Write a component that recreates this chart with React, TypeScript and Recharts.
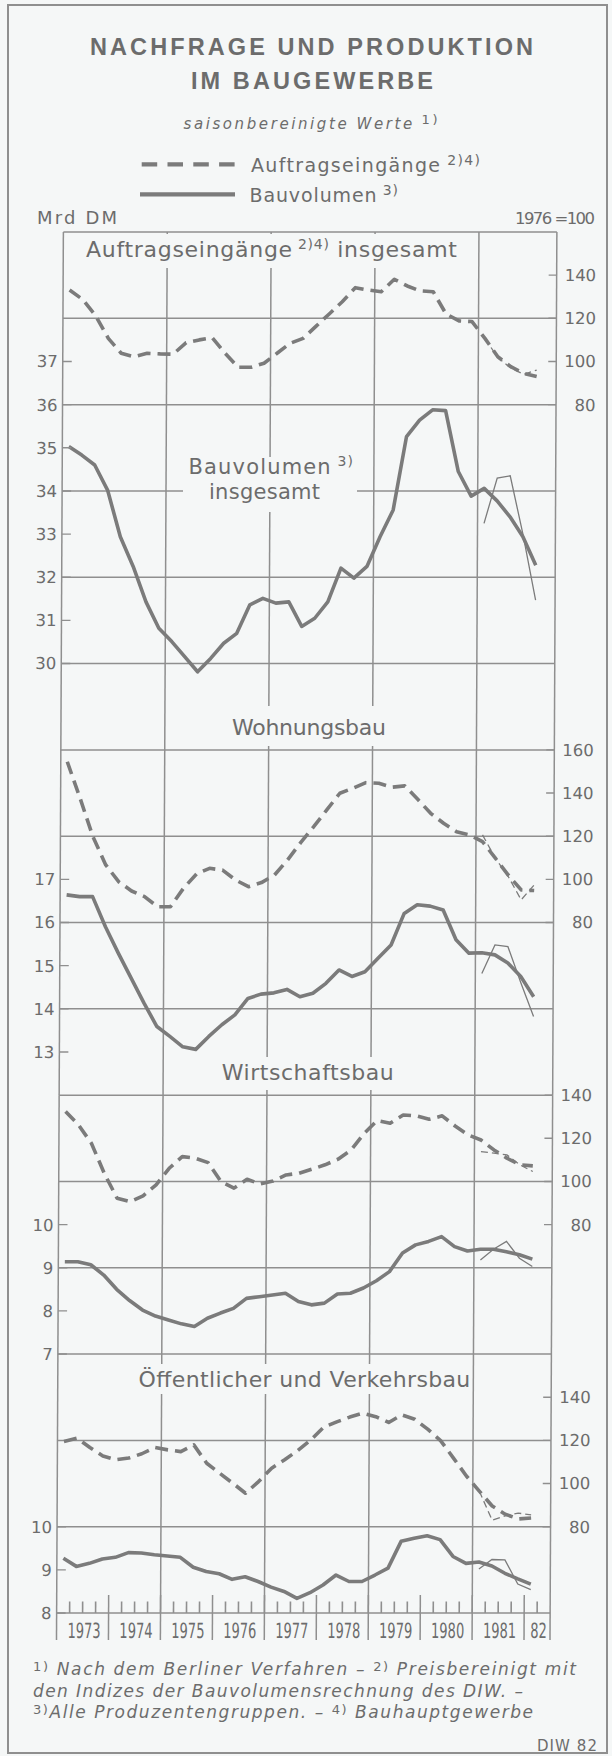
import React from 'react';
import { ComposedChart, Line, XAxis, YAxis, ReferenceLine } from 'recharts';

// ---------- categories ----------
const quarterLabels = [
  '1973 I', '1973 II', '1973 III', '1973 IV',
  '1974 I', '1974 II', '1974 III', '1974 IV',
  '1975 I', '1975 II', '1975 III', '1975 IV',
  '1976 I', '1976 II', '1976 III', '1976 IV',
  '1977 I', '1977 II', '1977 III', '1977 IV',
  '1978 I', '1978 II', '1978 III', '1978 IV',
  '1979 I', '1979 II', '1979 III', '1979 IV',
  '1980 I', '1980 II', '1980 III', '1980 IV',
  '1981 I', '1981 II', '1981 III', '1981 IV',
  '1982 I',
];
const altStart = '1981 I';

const yearLabels = ['1973', '1974', '1975', '1976', '1977', '1978', '1979', '1980', '1981', '82'];
const yearTickPos = [1973.5, 1974.5, 1975.5, 1976.5, 1977.5, 1978.5, 1979.5, 1980.5, 1981.5, 1982.25];
const yearBounds = [1974, 1975, 1976, 1977, 1978, 1979, 1980, 1981, 1982];
const gridYears = [1975, 1977, 1979, 1981];

// ---------- series: Insgesamt ----------
const gesamtBau = [35.03, 34.83, 34.6, 34.02, 32.94, 32.25, 31.43, 30.82, 30.51, 30.16, 29.81, 30.12, 30.47, 30.7, 31.36, 31.51, 31.4, 31.43, 30.86, 31.05, 31.43, 32.21, 31.98, 32.25, 32.94, 33.56, 35.26, 35.64, 35.88, 35.86, 34.45, 33.88, 34.06, 33.77, 33.4, 32.94, 32.28];
const gesamtAuf = [133.1, 128.8, 121.4, 110.7, 103.8, 102.2, 103.8, 103.5, 103.4, 108.7, 110.0, 111.0, 103.8, 97.3, 97.3, 99.2, 103.8, 108.4, 110.7, 116.4, 122.0, 127.7, 134.2, 133.1, 132.3, 138.1, 135.0, 132.7, 132.3, 122.0, 118.8, 118.5, 110.7, 102.2, 97.6, 94.5, 93.0];
const gesamtBauAlt = [33.25, 34.3, 34.35, 33.0, 31.47];
const gesamtAufAlt = [110.7, 101.8, 97.0, 94.0, 96.0];

// ---------- series: Wohnungsbau ----------
const wohnBau = [16.64, 16.6, 16.6, 15.9, 15.29, 14.71, 14.13, 13.59, 13.36, 13.12, 13.06, 13.36, 13.63, 13.86, 14.24, 14.34, 14.37, 14.45, 14.28, 14.36, 14.59, 14.9, 14.75, 14.86, 15.17, 15.48, 16.21, 16.41, 16.38, 16.29, 15.6, 15.29, 15.3, 15.25, 15.06, 14.75, 14.28];
const wohnAuf = [154.5, 137.6, 119.8, 106.7, 98.9, 94.6, 92.0, 87.3, 87.3, 95.9, 102.5, 105.1, 104.3, 99.7, 96.6, 98.5, 102.0, 109.0, 117.0, 124.4, 132.2, 139.9, 142.2, 144.8, 144.5, 142.7, 143.3, 137.1, 130.6, 126.0, 122.1, 120.6, 117.5, 109.8, 102.0, 95.1, 94.8];
const wohnBauAlt = [14.82, 15.48, 15.44, 14.61, 13.82];
const wohnAufAlt = [120.6, 109.8, 101.3, 90.5, 97.4];

// ---------- series: Wirtschaftsbau ----------
const wirtBau = [9.14, 9.14, 9.07, 8.83, 8.5, 8.24, 8.02, 7.88, 7.79, 7.7, 7.64, 7.83, 7.95, 8.06, 8.29, 8.33, 8.37, 8.41, 8.22, 8.14, 8.18, 8.39, 8.41, 8.53, 8.7, 8.91, 9.34, 9.53, 9.61, 9.72, 9.49, 9.39, 9.43, 9.43, 9.37, 9.3, 9.2];
const wirtAuf = [132.4, 126.2, 117.7, 103.8, 92.2, 90.6, 93.3, 98.4, 106.1, 111.5, 110.8, 108.7, 99.9, 96.9, 101.0, 98.8, 100.2, 103.0, 103.8, 105.7, 107.7, 110.3, 114.6, 122.3, 128.2, 127.0, 130.8, 130.4, 128.8, 130.4, 125.7, 121.6, 119.2, 114.6, 110.8, 107.7, 107.2];
const wirtBauAlt = [9.18, 9.43, 9.61, 9.22, 9.03];
const wirtAufAlt = [113.8, 113.1, 112.3, 107.7, 104.6];

// ---------- series: Oeffentlicher und Verkehrsbau ----------
const oeffBau = [9.27, 9.08, 9.15, 9.25, 9.29, 9.4, 9.39, 9.35, 9.32, 9.29, 9.06, 8.96, 8.91, 8.78, 8.84, 8.73, 8.6, 8.5, 8.34, 8.47, 8.65, 8.88, 8.73, 8.73, 8.88, 9.04, 9.66, 9.73, 9.79, 9.7, 9.31, 9.15, 9.18, 9.09, 8.92, 8.79, 8.67];
const oeffAuf = [119.5, 121.0, 116.7, 112.8, 111.0, 111.8, 113.8, 116.7, 115.6, 114.8, 117.9, 109.4, 104.8, 100.2, 95.5, 100.9, 107.1, 111.0, 115.3, 120.2, 126.1, 128.6, 130.8, 132.6, 131.0, 128.3, 131.8, 129.8, 125.2, 119.9, 111.8, 103.5, 96.5, 89.6, 85.8, 83.6, 84.0];
const oeffBauAlt = [9.02, 9.24, 9.23, 8.67, 8.54];
const oeffAufAlt = [96.5, 83.0, 85.0, 86.3, 85.5];

// ---------- layout / style ----------
const W = 612;
const H = 1756;
const PLOT_L = 60;
const PLOT_R = 553.5;
const GRID_TOP = 232;
const GRID_BOT = 1613;
const ROW_H = (GRID_BOT - GRID_TOP) / 16;
const X0 = 1973;
const X1 = 1982.5;

const BG = '#f5f7f7';
const GRID = '#8f8f8f';
const LINE = '#7b7b7b';
const TXT = '#6c6c6c';
const FONT = "'DejaVu Sans', 'Liberation Sans', sans-serif";

const toT = (q: string) => {
  const [y, r] = q.split(' ');
  const n = ({ I: 1, II: 2, III: 3, IV: 4 } as Record<string, number>)[r];
  return Number(y) + (n - 0.5) / 4;
};

const quarterBounds = quarterLabels.map((q) => toT(q) + 0.125).filter((t) => t % 1 !== 0);

function buildRows(bau: number[], auf: number[], bauAlt: number[], aufAlt: number[]) {
  const s0 = quarterLabels.indexOf(altStart);
  return quarterLabels.map((q, i) => ({
    q,
    t: toT(q),
    s: bau[i],
    d: auf[i],
    s2: i >= s0 ? bauAlt[i - s0] : null,
    d2: i >= s0 ? aufAlt[i - s0] : null,
  }));
}

const panels = [
  { r0: 0, r1: 6, lDomain: [28, 40], rDomain: [-80, 160], lTicks: [30, 31, 32, 33, 34, 35, 36, 37], rTicks: [80, 100, 120, 140], grid: [40, 38, 36, 34, 32, 30], rows: buildRows(gesamtBau, gesamtAuf, gesamtBauAlt, gesamtAufAlt) },
  { r0: 6, r1: 10, lDomain: [12, 20], rDomain: [0, 160], lTicks: [13, 14, 15, 16, 17], rTicks: [80, 100, 120, 140, 160], grid: [20, 18, 16, 14], rows: buildRows(wohnBau, wohnAuf, wohnBauAlt, wohnAufAlt) },
  { r0: 10, r1: 13, lDomain: [7, 13], rDomain: [20, 140], lTicks: [7, 8, 9, 10], rTicks: [80, 100, 120, 140], grid: [13, 11, 9, 7], rows: buildRows(wirtBau, wirtAuf, wirtBauAlt, wirtAufAlt) },
  { r0: 13, r1: 16, lDomain: [8, 14], rDomain: [40, 160], lTicks: [8, 9, 10], rTicks: [80, 100, 120, 140], grid: [12, 10], rows: buildRows(oeffBau, oeffAuf, oeffBauAlt, oeffAufAlt) },
];

const LeftTick = (props: any) => {
  const { y, payload } = props;
  return (
    <g>
      <line x1={PLOT_L} x2={PLOT_L + 9} y1={y} y2={y} stroke={GRID} strokeWidth={1.4} />
      <text x={55} y={y} dy="0.36em" textAnchor="end" fontSize={16.5} fill={TXT} fontFamily={FONT}>
        {payload.value}
      </text>
    </g>
  );
};

const RightTick = (props: any) => {
  const { y, payload } = props;
  return (
    <g>
      <line x1={PLOT_R - 8} x2={PLOT_R} y1={y} y2={y} stroke={GRID} strokeWidth={1.4} />
      <text x={593} y={y} dy="0.36em" textAnchor="end" fontSize={16.5} fill={TXT} fontFamily={FONT}>
        {payload.value}
      </text>
    </g>
  );
};

const YearTick = (props: any) => {
  const { x, payload } = props;
  const idx = yearTickPos.indexOf(payload.value);
  const lbl = yearLabels[idx] ?? '';
  return (
    <g transform={`translate(${x + 1.5},1638) scale(0.62,1)`}>
      <text x={0} y={0} textAnchor="middle" fontSize={21} fill={TXT} fontFamily={FONT}>
        {lbl}
      </text>
    </g>
  );
};

function Panel({ cfg, axis }: { cfg: any; axis: boolean }) {
  const top = GRID_TOP + cfg.r0 * ROW_H;
  const bottom = GRID_TOP + cfg.r1 * ROW_H;
  const xh = axis ? 30 : 0;
  const lMin = cfg.lDomain[0];
  const unitPx = ROW_H / 2;
  const below = (px: number) => lMin - px / unitPx;
  const above = (px: number) => lMin + px / unitPx;
  return (
    <div style={{ position: 'absolute', left: 0, top: 0 }}>
      <ComposedChart width={W} height={H} data={cfg.rows}
        margin={{ top, right: 0, left: 0, bottom: H - bottom - xh }}>
        <XAxis type="number" dataKey="t" domain={[X0, X1]} allowDataOverflow hide={!axis} height={30}
          ticks={yearTickPos} interval={0} tickLine={false}
          axisLine={{ stroke: GRID, strokeWidth: 1.6 }} tick={YearTick} />
        <YAxis yAxisId="L" type="number" domain={cfg.lDomain} ticks={cfg.lTicks} allowDataOverflow
          width={PLOT_L} interval={0} tickLine={false} axisLine={false} tick={LeftTick} />
        <YAxis yAxisId="R" orientation="right" type="number" domain={cfg.rDomain} ticks={cfg.rTicks}
          allowDataOverflow width={W - PLOT_R} interval={0} tickLine={false} axisLine={false} tick={RightTick} />
        {cfg.grid.map((v: number) => (
          <ReferenceLine key={'h' + v} yAxisId="L" y={v} stroke={GRID} strokeWidth={1.5} />
        ))}
        {[X0, ...gridYears, X1].map((x) => (
          <ReferenceLine key={'v' + x} yAxisId="L" x={x} stroke={GRID} strokeWidth={1.5} />
        ))}
        {axis && [X0, ...yearBounds, X1].map((x) => (
          <ReferenceLine key={'yb' + x} yAxisId="L" ifOverflow="visible" stroke={GRID} strokeWidth={1.5}
            segment={[{ x, y: below(27) }, { x, y: x === X0 || x === X1 ? lMin : above(18) }]} />
        ))}
        {axis && quarterBounds.map((x) => (
          <ReferenceLine key={'qb' + x} yAxisId="L" ifOverflow="visible" stroke={GRID} strokeWidth={1.6}
            segment={[{ x, y: lMin }, { x, y: above(11.5) }]} />
        ))}
        <Line yAxisId="R" dataKey="d" type="linear" stroke={LINE} strokeWidth={3.6} strokeDasharray="13 7"
          dot={false} isAnimationActive={false} strokeLinejoin="round" />
        <Line yAxisId="L" dataKey="s" type="linear" stroke={LINE} strokeWidth={3.6}
          dot={false} isAnimationActive={false} strokeLinejoin="round" />
        <Line yAxisId="R" dataKey="d2" type="linear" stroke={LINE} strokeWidth={1.3} strokeDasharray="7 4"
          dot={false} isAnimationActive={false} />
        <Line yAxisId="L" dataKey="s2" type="linear" stroke={LINE} strokeWidth={1.3}
          dot={false} isAnimationActive={false} />
      </ComposedChart>
    </div>
  );
}

const T = (p: any) => (
  <text fill={TXT} fontFamily={FONT} lengthAdjust="spacing" {...p} />
);

function Overlay() {
  return (
    <svg width={W} height={H} style={{ position: 'absolute', left: 0, top: 0 }}>
      <rect x={8} y={5} width={599} height={1748} fill="none" stroke={GRID} strokeWidth={2} />
      <T x={311.5} y={55} textAnchor="middle" fontSize={23.5} fontWeight="bold"
        fontFamily="'Liberation Sans', Arial, sans-serif" textLength={443}>NACHFRAGE UND PRODUKTION</T>
      <T x={312} y={88.5} textAnchor="middle" fontSize={23.5} fontWeight="bold"
        fontFamily="'Liberation Sans', Arial, sans-serif" textLength={242}>IM BAUGEWERBE</T>
      <T x={183.5} y={129} fontSize={15} fontStyle="italic" textLength={254}>
        saisonbereinigte Werte<tspan dy={-5} fontSize={13} fontStyle="normal"> 1)</tspan>
      </T>
      <line x1={141.7} x2={235} y1={164.3} y2={164.3} stroke={LINE} strokeWidth={4.2} strokeDasharray="15.5 10.3" />
      <T x={251} y={171.5} fontSize={19} textLength={229}>
        Auftragseingänge<tspan dy={-7} fontSize={14}> 2)4)</tspan>
      </T>
      <line x1={140} x2={235} y1={194.3} y2={194.3} stroke={LINE} strokeWidth={4.2} />
      <T x={249.5} y={201.5} fontSize={19} textLength={148.5}>
        Bauvolumen<tspan dy={-7} fontSize={14}> 3)</tspan>
      </T>
      <T x={37} y={224} fontSize={18} textLength={80}>Mrd DM</T>
      <T x={515} y={224} fontSize={16.5} textLength={80}>1976 =100</T>

      <rect x={68} y={234} width={402} height={34} fill={BG} />
      <T x={86} y={257} fontSize={22} textLength={371}>
        Auftragseingänge<tspan dy={-8} fontSize={14}> 2)4)</tspan><tspan dy={8}> insgesamt</tspan>
      </T>
      <rect x={183} y={457} width={174} height={55} fill={BG} />
      <T x={188.5} y={473.5} fontSize={21} textLength={164.5}>
        Bauvolumen<tspan dy={-8} fontSize={14}> 3)</tspan>
      </T>
      <T x={209} y={498.5} fontSize={21} textLength={111}>insgesamt</T>

      <rect x={228} y={706} width={164} height={40} fill={BG} />
      <T x={232} y={735} fontSize={22} textLength={154}>Wohnungsbau</T>

      <rect x={218} y={1057} width={180} height={33} fill={BG} />
      <T x={221.7} y={1080} fontSize={22} textLength={172}>Wirtschaftsbau</T>

      <rect x={134} y={1364} width={336} height={30} fill={BG} />
      <T x={138.6} y={1387.3} fontSize={22} textLength={331.7}>Öffentlicher und Verkehrsbau</T>

      <T x={33} y={1675} fontSize={17} fontStyle="italic" textLength={543}>
        <tspan dy={-4} fontSize={13} fontStyle="normal">1)</tspan><tspan dy={4}> Nach dem Berliner Verfahren – </tspan>
        <tspan dy={-4} fontSize={13} fontStyle="normal">2)</tspan><tspan dy={4}> Preisbereinigt mit</tspan>
      </T>
      <T x={33} y={1696.5} fontSize={17} fontStyle="italic" textLength={490}>
        den Indizes der Bauvolumensrechnung des DIW. –
      </T>
      <T x={33} y={1718} fontSize={17} fontStyle="italic" textLength={500}>
        <tspan dy={-4} fontSize={13} fontStyle="normal">3)</tspan><tspan dy={4}>Alle Produzentengruppen. – </tspan>
        <tspan dy={-4} fontSize={13} fontStyle="normal">4)</tspan><tspan dy={4}> Bauhauptgewerbe</tspan>
      </T>
      <T x={537} y={1751} fontSize={15} textLength={60}>DIW 82</T>
    </svg>
  );
}

export default function App() {
  return (
    <div style={{ position: 'absolute', left: 0, top: 0, width: W, height: H, background: BG, overflow: 'hidden' }}>
      <div style={{ position: 'absolute', left: 0, top: 0, width: W, height: H, transform: 'skewX(-0.28deg)', transformOrigin: '0px 922px' }}>
        {panels.map((cfg, i) => (
          <Panel key={i} cfg={cfg} axis={i === panels.length - 1} />
        ))}
      </div>
      <Overlay />
    </div>
  );
}
